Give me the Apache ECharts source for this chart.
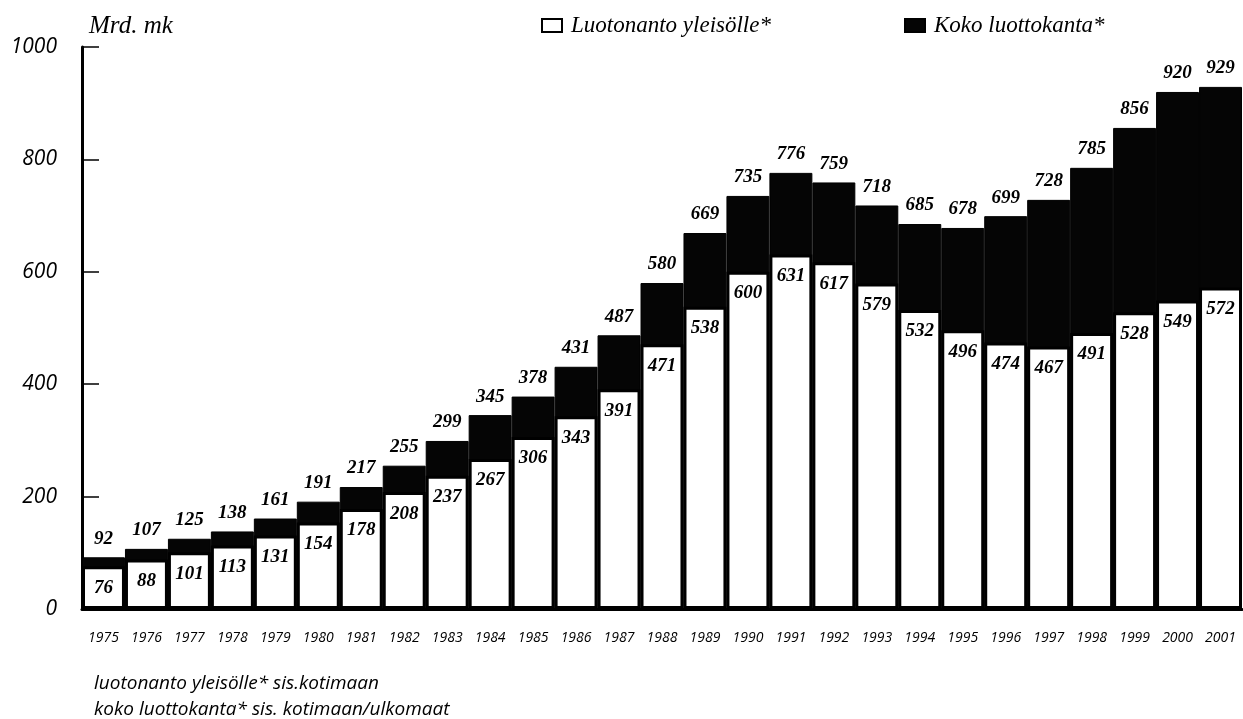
<!DOCTYPE html>
<html>
<head>
<meta charset="utf-8">
<script src="https://cdn.jsdelivr.net/npm/echarts@6/dist/echarts.min.js"></script>
<style>
  html, body { margin: 0; padding: 0; background: #fff; }
  #chart { width: 1243px; height: 719px; }
</style>
</head>
<body>
<div id="chart"></div>
<script>
  var years = ['1975','1976','1977','1978','1979','1980','1981','1982','1983','1984','1985','1986','1987','1988',
    '1989','1990','1991','1992','1993','1994','1995','1996','1997','1998','1999','2000','2001'];
  // koko luottokanta (total)
  var kokoLuottokanta = [92,107,125,138,161,191,217,255,299,345,378,431,487,580,669,735,776,759,718,685,678,699,728,785,856,920,929];
  // luotonanto yleisölle
  var luotonanto = [76,88,101,113,131,154,178,208,237,267,306,343,391,471,538,600,631,617,579,532,496,474,467,491,528,549,572];

  var serif = 'Liberation Serif';
  var sans = 'Open Sans';

  var chart = echarts.init(document.getElementById('chart'));
  chart.setOption({
    animation: false,
    title: [
      { text: 'Mrd. mk', left: 84, top: 9,
        textStyle: { fontFamily: serif, fontStyle: 'italic', fontWeight: 'normal', fontSize: 25, color: '#000' } },
      { text: 'luotonanto yleisölle* sis.kotimaan', left: 89, top: 669,
        textStyle: { fontFamily: sans, fontStyle: 'italic', fontWeight: 'normal', fontSize: 19, color: '#000' } },
      { text: 'koko luottokanta* sis. kotimaan/ulkomaat', left: 89, top: 695,
        textStyle: { fontFamily: sans, fontStyle: 'italic', fontWeight: 'normal', fontSize: 19, color: '#000' } }
    ],
    legend: [
      { data: ['Luotonanto yleisölle*'], left: 536, top: 9, icon: 'rect', itemWidth: 20, itemHeight: 13, itemGap: 12,
        textStyle: { fontFamily: serif, fontStyle: 'italic', fontSize: 23, color: '#000', padding: [0, 0, 0, 4] } },
      { data: ['Koko luottokanta*'], left: 899, top: 9, icon: 'rect', itemWidth: 20, itemHeight: 13,
        textStyle: { fontFamily: serif, fontStyle: 'italic', fontSize: 23, color: '#000', padding: [0, 0, 0, 4] } }
    ],
    grid: { left: 82, right: 1, top: 47, bottom: 110 },
    xAxis: {
      type: 'category',
      data: years,
      axisLine: { lineStyle: { color: '#000', width: 3 } },
      axisTick: { alignWithLabel: true, length: 16, lineStyle: { color: '#000', width: 1.5 } },
      axisLabel: { margin: 22, fontFamily: sans, fontStyle: 'italic', fontSize: 14, color: '#000' }
    },
    yAxis: {
      type: 'value',
      min: 0, max: 1000, interval: 200,
      axisLine: { show: true, lineStyle: { color: '#000', width: 3 } },
      axisTick: { show: true, inside: true, length: 17, lineStyle: { color: '#000', width: 1.5 } },
      axisLabel: { margin: 25, fontFamily: sans, fontStyle: 'italic', fontSize: 21, color: '#000',
        formatter: function (v) { return String(v); } },
      splitLine: { show: false }
    },
    series: [
      {
        name: 'Koko luottokanta*',
        type: 'bar',
        data: kokoLuottokanta,
        barWidth: '100%',
        barGap: '-100%',
        itemStyle: { color: '#050505', borderColor: '#000', borderWidth: 1 },
        label: { show: true, position: 'top', distance: 9, fontFamily: serif, fontStyle: 'italic',
          fontWeight: 'bold', fontSize: 19, color: '#000' }
      },
      {
        name: 'Luotonanto yleisölle*',
        type: 'bar',
        data: luotonanto,
        barWidth: '100%',
        barGap: '-100%',
        itemStyle: { color: '#fff', borderColor: '#000', borderWidth: 3 },
        label: { show: true, position: 'insideTop', distance: 12, fontFamily: serif, fontStyle: 'italic',
          fontWeight: 'bold', fontSize: 19, color: '#000' }
      }
    ]
  });
</script>
</body>
</html>
